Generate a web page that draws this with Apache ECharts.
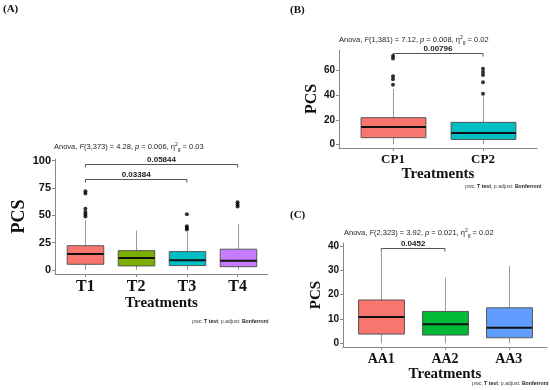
<!DOCTYPE html>
<html><head><meta charset="utf-8">
<script src="https://cdn.jsdelivr.net/npm/echarts@6/dist/echarts.min.js"></script>
<style>html,body{margin:0;padding:0;background:#fff}#c{width:550px;height:390px}</style>
</head><body><div id="c"></div>
<script>
// ---------- Panel A ----------
const catsA = ['T1', 'T2', 'T3', 'T4'];
// [lower whisker, Q1, median, Q3, upper whisker]
const boxA = [
  [0, 5.2, 14.5, 22.2, 45.5],
  [0, 3.7, 11.0, 17.7, 36],
  [0, 4.0, 8.8, 16.8, 35],
  [0, 3.0, 8.5, 19.0, 42]
];
const outA = [[72, 70, 56, 53, 51, 49], [], [51, 40, 38.5, 37], [62, 60, 58]];
const bracketsA = [[1, 3, 83, '0.03384'], [1, 4, 97, '0.05844']];
const ticksA = [0, 25, 50, 75, 100];
const colorsA = ['#F8766D', '#7CAE00', '#00BFC4', '#C77CFF'];

// ---------- Panel B ----------
const catsB = ['CP1', 'CP2'];
const boxB = [
  [0, 5.4, 14.1, 21.7, 45],
  [0, 4.0, 9.2, 17.9, 39]
];
const outB = [[72, 70, 55.4, 53, 48.6], [61.5, 59, 56.5, 50.5, 41.2]];
const bracketsB = [[1, 2, 74, '0.00796']];
const ticksB = [0, 20, 40, 60];
const colorsB = ['#F8766D', '#00BFC4'];

// ---------- Panel C ----------
const catsC = ['AA1', 'AA2', 'AA3'];
const boxC = [
  [0, 3.8, 10.8, 17.8, 37.7],
  [0, 3.4, 7.8, 13.1, 27],
  [0, 2.3, 6.4, 14.6, 31.8]
];
const outC = [[], [], []];
const bracketsC = [[1, 2, 39, '0.0452']];
const ticksC = [0, 10, 20, 30, 40];
const colorsC = ['#F8766D', '#00BA38', '#619CFF'];

const SERIF = "'Liberation Serif', 'Times New Roman', serif";
const SANS = "'Liberation Sans', Arial, sans-serif";
const BOXW = 0.72;

const panels = [
  {cats: catsA, box: boxA, out: outA, br: bracketsA, ticks: ticksA, colors: colorsA,
   grid: {left: 55, top: 159, width: 213, height: 115}, ymin: -3.7, ymax: 101.6,
   catSize: 16, tickSize: 11, nameSize: 15, pcsSize: 18, nameGap: 16, pcsGap: 21},
  {cats: catsB, box: boxB, out: outB, br: bracketsB, ticks: ticksB, colors: colorsB,
   grid: {left: 339, top: 50, width: 198, height: 98}, ymin: -3.0, ymax: 76.85,
   catSize: 13, tickSize: 10, nameSize: 15, pcsSize: 16, nameGap: 18, pcsGap: 13},
  {cats: catsC, box: boxC, out: outC, br: bracketsC, ticks: ticksC, colors: colorsC,
   grid: {left: 343, top: 243, width: 204, height: 104}, ymin: -1.5, ymax: 41.2,
   catSize: 14, tickSize: 10, nameSize: 15, pcsSize: 15, nameGap: 18, pcsGap: 17}
];

function boxRender(colors) {
  return function (params, api) {
    const x = api.value(0);
    const pLo = api.coord([x, api.value(1)]);
    const pQ1 = api.coord([x, api.value(2)]);
    const pMed = api.coord([x, api.value(3)]);
    const pQ3 = api.coord([x, api.value(4)]);
    const pHi = api.coord([x, api.value(5)]);
    const hw = api.size([BOXW, 0])[0] / 2;
    const cx = Math.round(pLo[0]) + 0.5;
    return {type: 'group', children: [
      {type: 'line', shape: {x1: cx, y1: pHi[1], x2: cx, y2: pQ3[1]}, style: {stroke: '#9a9a9a', lineWidth: 1}},
      {type: 'line', shape: {x1: cx, y1: pQ1[1], x2: cx, y2: pLo[1]}, style: {stroke: '#9a9a9a', lineWidth: 1}},
      {type: 'rect', shape: {x: cx - hw, y: pQ3[1], width: 2 * hw, height: pQ1[1] - pQ3[1]},
       style: {fill: colors[params.dataIndex], stroke: '#555', lineWidth: 1}},
      {type: 'line', shape: {x1: cx - hw, y1: pMed[1], x2: cx + hw, y2: pMed[1]}, style: {stroke: '#111', lineWidth: 2}}
    ]};
  };
}

function bracketRender(params, api) {
  const x1 = api.value(0), x2 = api.value(1), y = api.value(2);
  const p1 = api.coord([x1, y]);
  const p2 = api.coord([x2, y]);
  const label = api.value(3);
  const yy = Math.round(p1[1]) + 0.5;
  return {type: 'group', children: [
    {type: 'polyline', shape: {points: [[p1[0], yy + 3], [p1[0], yy], [p2[0], yy], [p2[0], yy + 3]]},
     style: {stroke: '#555', lineWidth: 1, fill: null}},
    {type: 'text', x: (p1[0] + p2[0]) / 2, y: yy - 1,
     style: {text: label, fontSize: 8, fontWeight: 'bold', fontFamily: SANS, fill: '#222',
             align: 'center', verticalAlign: 'bottom'}}
  ]};
}

const grid = [], xAxis = [], yAxis = [], series = [];
panels.forEach((p, i) => {
  grid.push(Object.assign({containLabel: false}, p.grid));
  const n = p.cats.length;
  const catVals = p.cats.map((c, k) => k + 1);
  xAxis.push({
    type: 'value', gridIndex: i, min: 0.4, max: n + 0.6,
    name: 'Treatments', nameLocation: 'middle', nameGap: p.nameGap,
    nameTextStyle: {fontFamily: SERIF, fontWeight: 'bold', fontSize: p.nameSize, color: '#111', verticalAlign: 'top'},
    axisLine: {show: true, onZero: false, lineStyle: {color: '#888', width: 1}},
    axisTick: {show: true, length: 3, customValues: catVals, lineStyle: {color: '#888'}},
    axisLabel: {customValues: catVals, margin: 5, formatter: v => p.cats[Math.round(v) - 1] || '',
      fontFamily: SERIF, fontWeight: 'bold', fontSize: p.catSize, color: '#111'},
    splitLine: {show: false}
  });
  yAxis.push({
    type: 'value', gridIndex: i, min: p.ymin, max: p.ymax,
    name: 'PCS', nameLocation: 'middle', nameGap: p.pcsGap, nameRotate: 90,
    nameTextStyle: {fontFamily: SERIF, fontWeight: 'bold', fontSize: p.pcsSize, color: '#111'},
    axisLine: {show: true, onZero: false, lineStyle: {color: '#888', width: 1}},
    axisTick: {show: true, length: 3, customValues: p.ticks, lineStyle: {color: '#888'}},
    axisLabel: {customValues: p.ticks, margin: 4, fontFamily: SANS, fontWeight: 'bold', fontSize: p.tickSize, color: '#111'},
    splitLine: {show: false}
  });
  series.push({
    type: 'custom', xAxisIndex: i, yAxisIndex: i,
    data: p.box.map((b, k) => [k + 1].concat(b)),
    encode: {x: 0, y: [1, 2, 3, 4, 5]},
    renderItem: boxRender(p.colors), silent: true
  });
  const pts = [];
  p.out.forEach((arr, k) => arr.forEach(v => pts.push([k + 1, v])));
  series.push({
    type: 'scatter', xAxisIndex: i, yAxisIndex: i, data: pts,
    symbolSize: 4, itemStyle: {color: '#000'}, silent: true
  });
  series.push({
    type: 'custom', xAxisIndex: i, yAxisIndex: i,
    data: p.br, encode: {x: [0, 1], y: 2},
    renderItem: bracketRender, silent: true
  });
});

const anovaRich = {
  i: {fontStyle: 'italic', fontSize: 7.5, fontFamily: SANS, color: '#222'},
  sp: {fontSize: 5, fontFamily: SANS, color: '#222', verticalAlign: 'top', lineHeight: 10},
  sb: {fontSize: 5, fontFamily: SANS, color: '#222', verticalAlign: 'bottom', lineHeight: 10}
};
function anova(text, left, top) {
  return {text: text, left: left, top: top, padding: 0,
    textStyle: {fontSize: 7.5, fontWeight: 'normal', fontFamily: SANS, color: '#222', lineHeight: 10, rich: anovaRich}};
}
const pwcRich = {b: {fontSize: 5.2, fontWeight: 'bold', fontFamily: SANS, color: '#222'}};
function pwc(left, top) {
  return {text: 'pwc: {b|T test}; p.adjust: {b|Bonferroni}', left: left, top: top, padding: 0,
    textStyle: {fontSize: 5.2, fontWeight: 'normal', fontFamily: SANS, color: '#444', rich: pwcRich}};
}
function plabel(t, left, top) {
  return {text: t, left: left, top: top, padding: 0,
    textStyle: {fontSize: 11, fontWeight: 'bold', fontFamily: SERIF, color: '#111'}};
}

const title = [
  plabel('(A)', 3, 4), plabel('(B)', 290, 5), plabel('(C)', 290, 210),
  anova('Anova, {i|F}(3,373) = 4.28, {i|p} = 0.006, η{sp|2}{sb|g} = 0.03', 54, 142),
  anova('Anova, {i|F}(1,381) = 7.12, {i|p} = 0.008, η{sp|2}{sb|g} = 0.02', 339, 35),
  anova('Anova, {i|F}(2,323) = 3.92, {i|p} = 0.021, η{sp|2}{sb|g} = 0.02', 344, 228),
  pwc(192, 319), pwc(465, 184), pwc(472, 381)
];

const chart = echarts.init(document.getElementById('c'), null, {renderer: 'canvas'});
chart.setOption({
  backgroundColor: '#fff', animation: false,
  title: title, grid: grid, xAxis: xAxis, yAxis: yAxis, series: series
});
</script></body></html>
